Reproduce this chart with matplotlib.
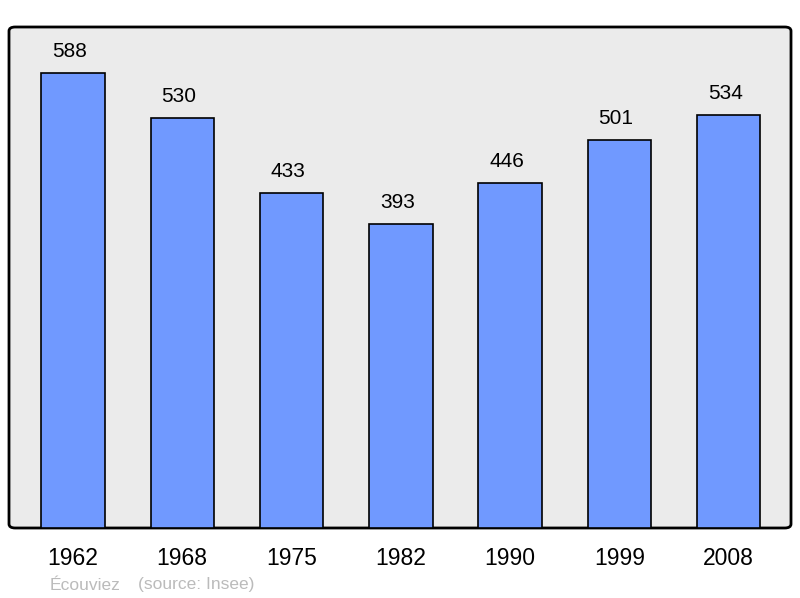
import matplotlib
matplotlib.use("Agg")
import matplotlib.pyplot as plt
from matplotlib.patches import FancyBboxPatch

years = ["1962", "1968", "1975", "1982", "1990", "1999", "2008"]
population = [588, 530, 433, 393, 446, 501, 534]
commune = "Écouviez"
source = "(source: Insee)"

plt.rcParams["font.family"] = ["Liberation Sans", "DejaVu Sans"]

fig = plt.figure(figsize=(8.0, 5.98), dpi=100)
ax = fig.add_axes([9 / 800, 1 - 528 / 598, 782 / 800, 501 / 598])
ax.set_facecolor("none")
for s in ax.spines.values():
    s.set_visible(False)

# background frame with rounded corners
frame = FancyBboxPatch((0, 0), 1, 1, boxstyle="round,pad=0,rounding_size=0.008",
                       transform=ax.transAxes, facecolor="#ebebeb",
                       edgecolor="black", linewidth=2, zorder=0, clip_on=False)
ax.add_patch(frame)

x = list(range(len(years)))
ax.bar(x, population, width=0.58, color="#7099ff", edgecolor="black",
       linewidth=1.2, zorder=2)
for xi, v in zip(x, population):
    ax.annotate(str(v), (xi, v), xytext=(-3.5, 12), textcoords="offset pixels",
                ha="center", va="bottom", fontsize=15)

ax.set_xlim(-0.585, 6.57)
ax.set_ylim(0, 647)
ax.set_yticks([])
ax.set_xticks(x)
ax.set_xticklabels(years, fontsize=16.5)
ax.tick_params(axis="x", length=0, pad=14)

fig.text(50 / 800, 1 - 585 / 598, commune, color="#bbbbbb", fontsize=12.5, va="center")
fig.text(138 / 800, 1 - 585 / 598, source, color="#bbbbbb", fontsize=12.5, va="center")

fig.savefig("out.png", dpi=100)
